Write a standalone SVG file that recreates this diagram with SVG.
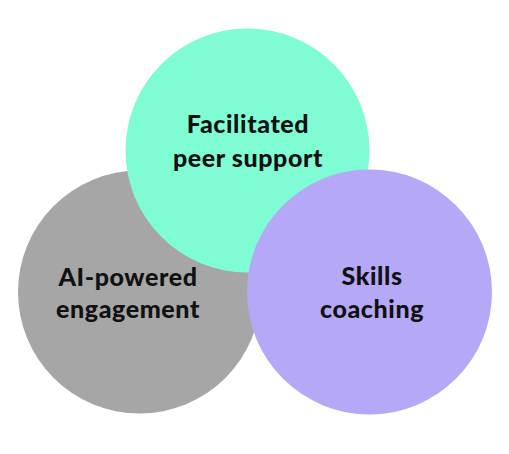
<svg xmlns="http://www.w3.org/2000/svg" width="509" height="454" viewBox="0 0 509 454">
<style>
.lbl{font-family:"Lato","Open Sans","DejaVu Sans",sans-serif;font-weight:900;font-size:25px;letter-spacing:0.6px;fill:#111111;text-anchor:middle}
</style>
<rect width="509" height="454" fill="#ffffff"/>
<g id="connectors"></g>
<g id="node-ai">
<circle cx="139.5" cy="292" r="121.5" fill="#a6a6a6"/>
</g>
<g id="node-peer">
<circle cx="247.5" cy="150.5" r="122" fill="#80fcd5"/>
</g>
<g id="node-skills">
<circle cx="369.5" cy="292" r="122.5" fill="#b5a8f7"/>
</g>
<g id="labels">
<text class="lbl" x="248" y="133">Facilitated</text>
<text class="lbl" x="248" y="167">peer support</text>
<text class="lbl" x="128" y="286">AI-powered</text>
<text class="lbl" x="128" y="318">engagement</text>
<text class="lbl" x="372" y="285">Skills</text>
<text class="lbl" x="372" y="318">coaching</text>
</g>
</svg>
